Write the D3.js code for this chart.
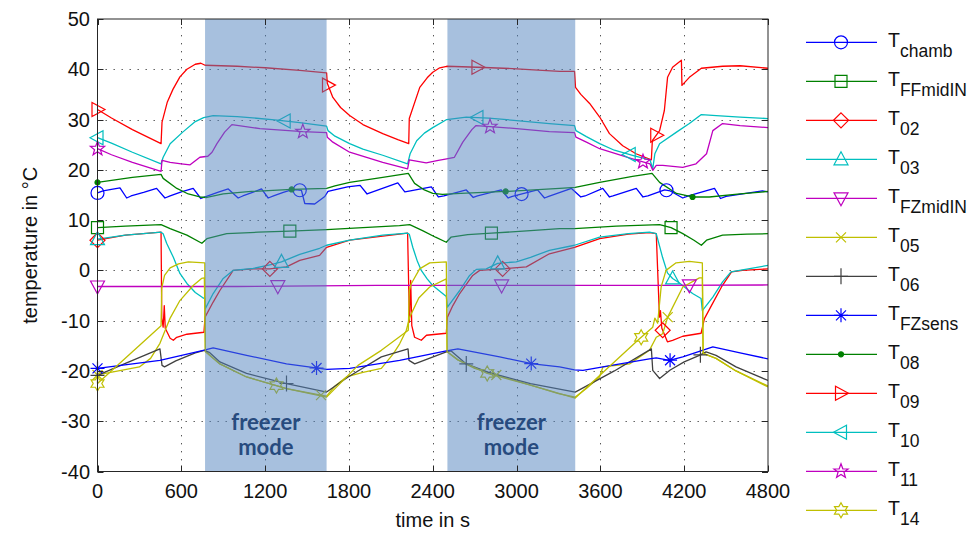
<!DOCTYPE html>
<html><head><meta charset="utf-8">
<script src="https://cdn.jsdelivr.net/npm/d3@7"></script>
<style>body{margin:0;background:#fff}text{font-family:Arial,"Liberation Sans",sans-serif}</style>
</head><body><svg id="c" width="971" height="533"></svg>
<script>
// ---------------- data ----------------
const xTicks = [0, 600, 1200, 1800, 2400, 3000, 3600, 4200, 4800];
const yTicks = [-40, -30, -20, -10, 0, 10, 20, 30, 40, 50];
const freezerStart = [770, 2505];
const freezerEnd = [1640, 3420];
const freezerLabel = ["freezer", "mode"];

const seriesNames = ["chamb","FFmidIN","02","03","FZmidIN","05","06","FZsens","08","09","10","11","14"];

const Tchamb = [[0,15.4],[40,15.8],[100,16.1],[161,16.4],[209,14.4],[240,14.8],[330,15.5],[423,16.3],[483,14.4],[520,14.8],[600,15.6],[685,16.3],[740,14.3],[780,14.7],[860,15.5],[936,16.2],[1007,14.4],[1040,14.8],[1110,15.5],[1174,16.2],[1222,14.4],[1260,14.8],[1330,15.5],[1389,16.0],[1430,16.0],[1460,15.9],[1484,13.3],[1555,13.2],[1627,14.7],[1650,15.7],[1790,16.6],[1880,16.9],[1930,15.2],[1970,15.6],[2150,17.4],[2200,15.6],[2240,15.8],[2390,16.6],[2440,14.6],[2480,14.8],[2640,16.0],[2690,14.5],[2720,14.8],[2890,16.0],[2940,14.4],[2970,14.7],[3150,16.0],[3200,14.4],[3230,14.7],[3393,16.3],[3460,14.6],[3490,14.8],[3617,16.3],[3665,14.6],[3690,14.8],[3857,16.3],[3905,14.6],[3940,14.8],[4060,16.0],[4100,15.8],[4190,14.4],[4230,14.8],[4417,16.3],[4460,14.3],[4500,14.7],[4760,15.8],[4800,15.6]];
const TFFmidIN = [[0,8.5],[200,8.8],[455,9.1],[520,8.3],[640,7],[747,5.4],[783,6.3],[925,7.3],[1150,7.6],[1377,7.8],[1640,8.1],[1900,8.5],[2162,8.9],[2235,9.1],[2327,7.9],[2420,6.6],[2497,5.6],[2530,6.6],[2650,7.1],[2820,7.4],[3100,7.9],[3308,8.3],[3415,8.3],[3713,8.8],[4024,9.1],[4106,8.5],[4190,7.3],[4270,6],[4323,5],[4360,6],[4475,7],[4650,7.2],[4800,7.3]];
const T02 = [[0,6.0],[200,7],[455,7.6],[460,-9.5],[470,-11.3],[478,-7],[485,-11.5],[520,-13.5],[543,-13.9],[567,-13.3],[640,-12.7],[700,-12.5],[762,-12.3],[770,-9.3],[828,-6.3],[876,-4],[948,-1],[971,0],[1115,0.3],[1234,0.3],[1353,0.7],[1448,2],[1590,3],[1640,4.6],[1805,6],[2042,6.8],[2220,7.4],[2233,-10.3],[2242,-2],[2250,-11],[2270,-13.3],[2318,-13.9],[2355,-12.9],[2497,-12.5],[2505,-9.3],[2544,-7],[2593,-4.6],[2686,-1],[2736,0],[2900,0.3],[3070,0.7],[3235,3.3],[3415,4.6],[3595,6.3],[3800,7.2],[3952,7.5],[4000,7.3],[4023,-9.3],[4030,-8],[4040,-11.5],[4080,-14.2],[4117,-13.9],[4190,-13.1],[4321,-12.5],[4345,-9.6],[4395,-7],[4467,-3.3],[4539,-0.3],[4617,0],[4800,0.3]];
const T03 = [[0,6.2],[200,7],[455,7.6],[470,7.3],[495,5.4],[543,2.6],[590,-0.6],[640,-2.6],[700,-4.4],[752,-5.4],[768,-5.6],[772,-7.6],[828,-4.6],[900,-1.6],[970,0],[1115,0.4],[1250,1.2],[1317,1.7],[1448,3.2],[1590,4.4],[1640,5],[1805,6],[2042,7],[2220,7.4],[2232,7.2],[2257,4.6],[2290,1.8],[2318,0],[2360,-1.7],[2400,-3],[2497,-5.2],[2505,-7.3],[2593,-4],[2664,-1],[2712,0.2],[2783,0.3],[2865,1.4],[2998,1.7],[3100,2.6],[3235,4],[3415,5],[3595,6.6],[3800,7.3],[3952,7.6],[4000,7.3],[4045,2.6],[4080,-0.5],[4117,-1.6],[4166,-2.5],[4260,-4.6],[4321,-5.6],[4330,-8],[4405,-5.3],[4475,-2.3],[4535,-0.3],[4617,0.1],[4700,0.5],[4800,1]];
const TFZmidIN = [[0,-3.2],[1000,-3.2],[2000,-3.0],[3000,-3.0],[4000,-3.0],[4800,-2.9]];
const T05 = [[0,-20.8],[150,-20],[300,-19.2],[380,-17.5],[447,-14.5],[518,-9.6],[590,-6],[685,-3],[745,-1.6],[765,-1.5],[772,-16],[830,-17.5],[876,-18.6],[1067,-21.2],[1353,-23.5],[1600,-24.8],[1640,-25],[1700,-23],[1782,-21.2],[1900,-20.3],[2032,-19.5],[2120,-16.5],[2163,-14.6],[2211,-11.9],[2235,-9.3],[2300,-5.5],[2378,-3.3],[2497,-1.7],[2503,-16.2],[2580,-17.8],[2700,-19.5],[2855,-20.8],[3100,-22.8],[3300,-24.5],[3420,-25.2],[3500,-23.5],[3594,-21.2],[3618,-19.2],[3809,-18.6],[3951,-15.9],[4000,-13.3],[4046,-12.6],[4082,-9.3],[4190,-3.3],[4309,-1.5],[4330,-1.5],[4335,-16.5],[4428,-17.5],[4571,-20],[4800,-23]];
const T06 = [[0,-20.9],[200,-18.5],[447,-15.6],[462,-18.9],[480,-19.2],[560,-18],[700,-16.4],[765,-15.9],[800,-16.3],[876,-18.2],[1067,-20.5],[1353,-22.5],[1591,-23.9],[1640,-24.2],[1794,-21.2],[2032,-17.2],[2223,-15.6],[2230,-17.9],[2271,-18.6],[2497,-16.2],[2530,-16],[2640,-18.6],[2800,-20.3],[3100,-22.5],[3420,-24.2],[3700,-20],[3965,-15.6],[3975,-19.9],[4024,-21.5],[4100,-19.8],[4200,-18.2],[4309,-16.9],[4357,-16.2],[4428,-16.9],[4571,-19.2],[4800,-21.9]];
const TFZsens = [[0,-19.5],[447,-17.9],[757,-15.9],[828,-15.4],[1067,-16.9],[1353,-18.6],[1591,-19.5],[1640,-19.7],[1806,-19.5],[2163,-17.9],[2497,-16],[2580,-15.6],[2879,-17.2],[3117,-18.6],[3308,-19.2],[3415,-19.8],[3475,-19.9],[3700,-18.8],[3951,-17.6],[4000,-17.4],[4094,-17.9],[4190,-17.2],[4405,-15.2],[4600,-16.4],[4800,-17.6]];
const T08 = [[0,17.5],[100,17.9],[250,18.5],[455,19.1],[470,18.3],[568,16.3],[650,15.2],[733,14.6],[783,14.5],[900,15.2],[1100,15.7],[1390,16.1],[1640,16.3],[1700,16.8],[1805,17.5],[2042,18.5],[2225,19.3],[2270,17.3],[2340,16.0],[2400,15.3],[2470,15.1],[2600,15.3],[2922,15.7],[3308,16.3],[3420,16.5],[3595,17.5],[3830,18.7],[3970,19.3],[4024,17.5],[4145,15.3],[4260,14.6],[4380,14.6],[4600,15.2],[4800,15.7]];
const T09 = [[0,32],[100,30.3],[250,28],[455,25.2],[462,29.5],[500,33.5],[540,36],[590,38.5],[640,40],[700,41],[740,41.2],[770,40.8],[1000,40.6],[1200,40.3],[1448,39.8],[1640,39.3],[1645,37.2],[1685,34.4],[1740,32.4],[1805,30.8],[1900,29],[2042,27.2],[2150,26],[2228,25.2],[2232,30.2],[2307,36.4],[2360,38.3],[2400,39.4],[2450,40.3],[2500,40.6],[2720,40.4],[3000,40.1],[3308,39.6],[3415,39.6],[3422,36.4],[3460,35],[3523,33.2],[3595,30.5],[3665,27.2],[3760,24.8],[3855,23.2],[3965,22],[3972,25.8],[4024,27.8],[4058,31.8],[4081,38.4],[4117,40.4],[4180,41.8],[4184,36.8],[4237,38.4],[4323,40.2],[4475,40.6],[4600,40.7],[4800,40.2]];
const T10 = [[0,26.4],[100,25.3],[250,23.5],[455,21.2],[470,22.5],[520,25.2],[610,27.5],[700,29.6],[760,30.4],[828,30.8],[1000,30.6],[1285,29.9],[1448,29.4],[1640,28.7],[1650,27.8],[1700,26.7],[1805,25.2],[1900,24.1],[2042,22.9],[2220,21.2],[2238,23.2],[2285,25.8],[2340,27.3],[2400,28.4],[2500,30],[2640,30.5],[2800,30.3],[3000,29.8],[3235,29.2],[3415,28.8],[3425,27.8],[3500,26.6],[3595,25.2],[3700,23.9],[3830,22.9],[3955,22],[3975,20.2],[3990,23.2],[4024,25.2],[4145,27.5],[4237,29.2],[4323,31],[4430,30.8],[4600,30.5],[4800,30.2]];
const T11 = [[0,24.2],[100,23],[250,21.5],[455,19.7],[462,21.9],[520,21.5],[600,21.2],[663,21],[733,22.5],[790,22.7],[820,23.5],[855,25.2],[910,27.5],[962,29],[1163,28.2],[1470,27.6],[1640,27.4],[1645,26.5],[1685,25.5],[1805,23.5],[2042,21.5],[2220,20.2],[2232,22],[2353,21.4],[2440,21.9],[2500,22.2],[2555,22.5],[2615,25.5],[2680,28],[2710,28.8],[2810,28.6],[3000,28.2],[3235,27.6],[3415,27.4],[3425,26.5],[3500,25.5],[3595,24.2],[3830,22.2],[3955,21.2],[3975,19.9],[4000,20.9],[4047,20.9],[4190,20.5],[4285,21.2],[4360,23.2],[4405,27.8],[4475,29.2],[4600,28.8],[4800,28.4]];
const T14 = [[0,-22.5],[455,-11],[460,-3.5],[480,-1],[520,0.5],[580,1.3],[650,1.7],[768,1.5],[772,-16.2],[876,-18.6],[1067,-21.2],[1281,-22.9],[1353,-23.5],[1640,-25.2],[1865,-18.9],[2032,-15.9],[2225,-11.9],[2232,-4],[2247,-2.6],[2306,0.3],[2378,1.5],[2497,1.7],[2503,-16.2],[2580,-17.8],[2790,-20.5],[3100,-22.8],[3420,-25.4],[3880,-13.6],[3975,-11.3],[3990,-9.5],[4010,-10.5],[4035,-3.3],[4070,0],[4142,1.5],[4237,1.8],[4330,1.5],[4336,-16.5],[4428,-17.5],[4571,-20],[4800,-23.2]];

// marker positions (time in s)
const mkChamb = [0, 1448, 3036, 4073];
const mkFFmidIN = [0, 1377, 2820, 4106];
const mk02 = [0, 1234, 2900, 4046];
const mk03 = [0, 1317, 2865, 4117];
const mkFZmidIN = [0, 1291, 2893, 4237];
const mk05 = [0, 1600, 2855, 4082];
const mk06 = [0, 1353, 2640, 4316];
const mkFZsens = [0, 1568, 3105, 4099];
const mk08 = [0, 1390, 2922, 4260];
const mk09 = [0, 1650, 2720, 4000];
const mk10 = [0, 1340, 2720, 3810];
const mk11 = [0, 1470, 2810, 3905];
const mk14 = [0, 1281, 2790, 3892];

// ---------------- drawing ----------------
const C = {b:"#0000ff", g:"#008000", r:"#ff0000", c:"#00bfbf", m:"#bf00bf", y:"#bfbf00", k:"#404040"};
const series = [
  {sub:seriesNames[0], data:Tchamb, mk:mkChamb, col:C.b, shape:"circle"},
  {sub:seriesNames[1], data:TFFmidIN, mk:mkFFmidIN, col:C.g, shape:"square"},
  {sub:seriesNames[2], data:T02, mk:mk02, col:C.r, shape:"diamond"},
  {sub:seriesNames[3], data:T03, mk:mk03, col:C.c, shape:"triup"},
  {sub:seriesNames[4], data:TFZmidIN, mk:mkFZmidIN, col:C.m, shape:"tridown"},
  {sub:seriesNames[5], data:T05, mk:mk05, col:C.y, shape:"x"},
  {sub:seriesNames[6], data:T06, mk:mk06, col:C.k, shape:"plus"},
  {sub:seriesNames[7], data:TFZsens, mk:mkFZsens, col:C.b, shape:"star"},
  {sub:seriesNames[8], data:T08, mk:mk08, col:C.g, shape:"dot"},
  {sub:seriesNames[9], data:T09, mk:mk09, col:C.r, shape:"triright"},
  {sub:seriesNames[10], data:T10, mk:mk10, col:C.c, shape:"trileft"},
  {sub:seriesNames[11], data:T11, mk:mk11, col:C.m, shape:"penta"},
  {sub:seriesNames[12], data:T14, mk:mk14, col:C.y, shape:"hexa"}
];

function starPath(n, ro, ri){
  let p = [];
  for (let i=0;i<2*n;i++){
    const a = -Math.PI/2 + i*Math.PI/n;
    const rr = i%2===0?ro:ri;
    p.push([rr*Math.cos(a), rr*Math.sin(a)]);
  }
  return "M"+p.map(q=>q[0].toFixed(2)+","+q[1].toFixed(2)).join("L")+"Z";
}
function shapePath(s){
  switch(s){
    case "circle": return "M6.5,0A6.5,6.5 0 1,1 -6.5,0A6.5,6.5 0 1,1 6.5,0Z";
    case "square": return "M-6,-6H6V6H-6Z";
    case "diamond": return "M0,-7.5L7.5,0L0,7.5L-7.5,0Z";
    case "triup": return "M0,-7.5L7,5.5L-7,5.5Z";
    case "tridown": return "M0,7.5L7,-5.5L-7,-5.5Z";
    case "triright": return "M7.5,0L-5.5,-7L-5.5,7Z";
    case "trileft": return "M-7.5,0L5.5,-7L5.5,7Z";
    case "x": return "M-5,-5L5,5M-5,5L5,-5";
    case "plus": return "M-7,0H7M0,-8V8";
    case "star": return "M-7,0H7M0,-7V7M-5,-5L5,5M-5,5L5,-5";
    case "dot": return "M2.5,0A2.5,2.5 0 1,1 -2.5,0A2.5,2.5 0 1,1 2.5,0Z";
    case "penta": return starPath(5, 7.5, 3.1);
    case "hexa": return starPath(6, 7.5, 4.3);
  }
}

const svg = d3.select("#c");
const L=97.5, R=768, T=19, B=471.5;
const x = d3.scaleLinear().domain([0,4800]).range([L,R]);
const y = d3.scaleLinear().domain([-40,50]).range([B,T]);

svg.append("defs").append("clipPath").attr("id","clip")
  .append("rect").attr("x",L).attr("y",T).attr("width",R-L).attr("height",B-T);

// grid
const grid = svg.append("g").attr("stroke","#555").attr("stroke-width",1).attr("stroke-dasharray","1.4,6.6");
grid.selectAll(".gx").data(xTicks.slice(1,-1)).join("line")
  .attr("x1",d=>Math.round(x(d))+0.5).attr("x2",d=>Math.round(x(d))+0.5).attr("y1",T).attr("y2",B);
grid.selectAll(".gy").data(yTicks.slice(1,-1)).join("line")
  .attr("y1",d=>Math.round(y(d))+0.5).attr("y2",d=>Math.round(y(d))+0.5).attr("x1",L).attr("x2",R);

// lines
const line = d3.line().x(d=>x(d[0])).y(d=>y(d[1]));
const lg = svg.append("g").attr("clip-path","url(#clip)");
function valAt(data,t){
  const i = d3.bisector(d=>d[0]).left(data,t);
  if(i<=0) return data[0][1];
  if(i>=data.length) return data[data.length-1][1];
  const a=data[i-1], b=data[i];
  return a[1]+(b[1]-a[1])*(t-a[0])/(b[0]-a[0]);
}
series.forEach(s=>{
  lg.append("path").datum(s.data).attr("d",line)
    .attr("fill","none").attr("stroke",s.col).attr("stroke-width",1.3).attr("stroke-linejoin","round");
});
const mg = svg.append("g");
series.forEach(s=>{
  mg.selectAll(null).data(s.mk).join("path")
    .attr("transform",t=>`translate(${x(t)},${y(valAt(s.data,t))})`)
    .attr("d",shapePath(s.shape))
    .attr("fill",s.shape==="dot"?s.col:"none")
    .attr("stroke",s.col).attr("stroke-width",1.2);
});

// freezer shading (semi-transparent on top)
const shade = svg.append("g");
freezerStart.forEach((s,i)=>{
  shade.append("rect").attr("x",x(s)).attr("y",T).attr("width",x(freezerEnd[i])-x(s)).attr("height",B-T)
    .attr("fill","#4f81bd").attr("opacity",0.5);
  const cx = (x(s)+x(freezerEnd[i]))/2;
  freezerLabel.forEach((w,j)=>{
    shade.append("text").attr("x",cx).attr("y",430+j*25).attr("text-anchor","middle")
      .style("font-family","Lato, 'Open Sans', sans-serif").style("font-weight","bold").style("font-size","22px")
      .attr("fill","#274b7e").text(w);
  });
});

// axes box & ticks
const ax = svg.append("g").attr("stroke","#262626").attr("stroke-width",1);
ax.append("rect").attr("x",L).attr("y",T).attr("width",R-L).attr("height",B-T).attr("fill","none");
xTicks.forEach(t=>{
  const xx=Math.round(x(t))+0.5;
  ax.append("line").attr("x1",xx).attr("x2",xx).attr("y1",B).attr("y2",B-6);
  ax.append("line").attr("x1",xx).attr("x2",xx).attr("y1",T).attr("y2",T+6);
});
yTicks.forEach(t=>{
  const yy=Math.round(y(t))+0.5;
  ax.append("line").attr("y1",yy).attr("y2",yy).attr("x1",L).attr("x2",L+6);
  ax.append("line").attr("y1",yy).attr("y2",yy).attr("x1",R).attr("x2",R-6);
});
const tl = svg.append("g").attr("fill","#111").style("font-size","20px");
tl.selectAll(".xl").data(xTicks).join("text").attr("x",d=>x(d)).attr("y",498).attr("text-anchor","middle").text(d=>d);
tl.selectAll(".yl").data(yTicks).join("text").attr("x",90).attr("y",d=>y(d)+7).attr("text-anchor","end").text(d=>d);
svg.append("text").attr("x",(L+R)/2).attr("y",527).attr("text-anchor","middle").style("font-size","20px").attr("fill","#111").text("time in s");
svg.append("text").attr("transform",`translate(37,${(T+B)/2}) rotate(-90)`).attr("text-anchor","middle").style("font-size","20px").attr("fill","#111").text("temperature in °C");

// legend
const leg = svg.append("g");
series.forEach((s,i)=>{
  const yy = 42.3 + i*39;
  leg.append("line").attr("x1",806).attr("x2",877).attr("y1",yy).attr("y2",yy).attr("stroke",s.col).attr("stroke-width",1.3);
  leg.append("path").attr("transform",`translate(841,${yy})`).attr("d",shapePath(s.shape))
    .attr("fill",s.shape==="dot"?s.col:"none").attr("stroke",s.col).attr("stroke-width",1.2);
  const t = leg.append("text").attr("x",888).attr("y",yy+4.5).attr("fill","#111").style("font-size","19.5px");
  t.append("tspan").text("T");
  t.append("tspan").attr("dy",10.5).style("font-size","17.5px").text(s.sub);
});
</script></body></html>
